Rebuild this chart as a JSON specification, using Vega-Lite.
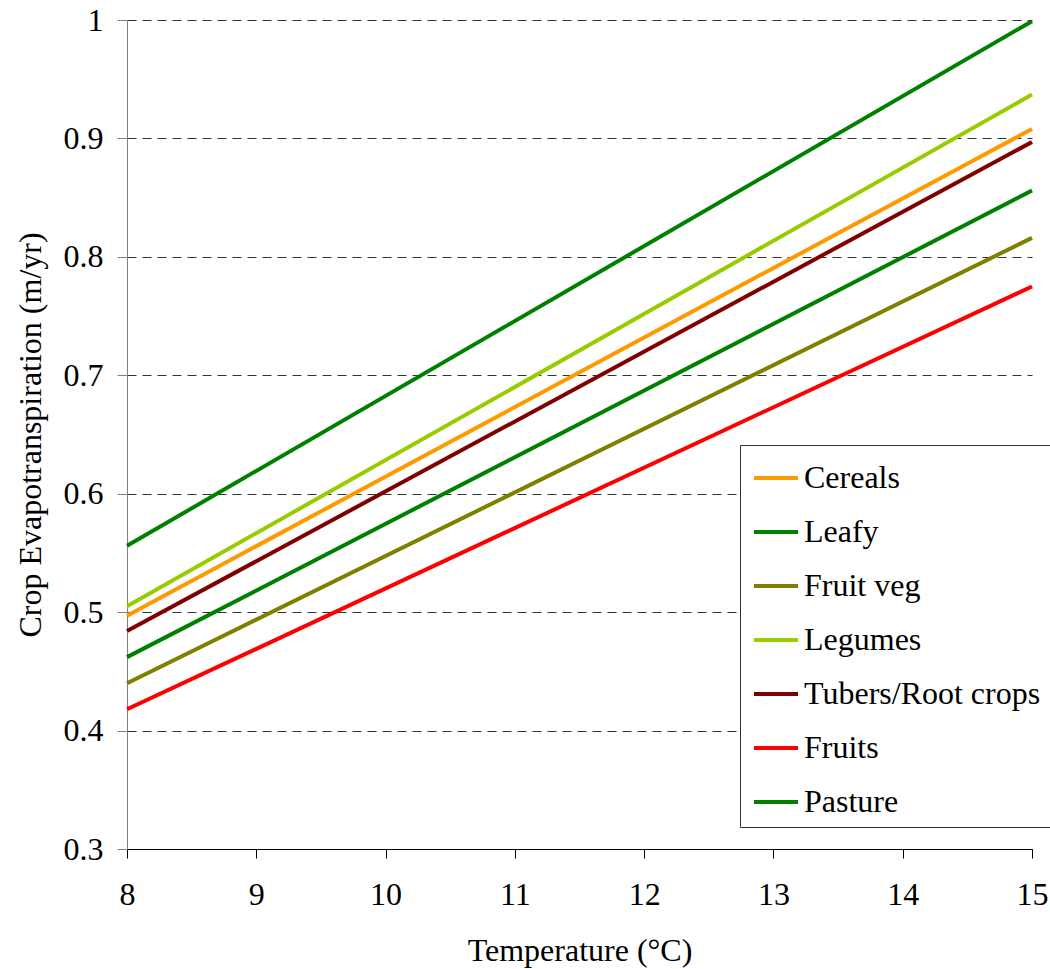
{
  "$schema": "https://vega.github.io/schema/vega-lite/v6.json",
  "autosize": "none",
  "width": 905,
  "height": 829,
  "padding": {"left": 127, "top": 20, "right": 18, "bottom": 120},
  "background": "white",
  "config": {
    "view": {"stroke": null},
    "font": "Liberation Serif, Times New Roman, serif",
    "axis": {"labelFont": "Liberation Serif, Times New Roman, serif", "titleFont": "Liberation Serif, Times New Roman, serif", "labelColor": "black", "titleColor": "black", "titleFontWeight": "normal"},
    "legend": {"labelFont": "Liberation Serif, Times New Roman, serif"}
  },
  "data": {
    "values": [
      {"crop": "Cereals", "temp": 8, "et": 0.497},
      {"crop": "Cereals", "temp": 15, "et": 0.908},
      {"crop": "Leafy", "temp": 8, "et": 0.462},
      {"crop": "Leafy", "temp": 15, "et": 0.856},
      {"crop": "Fruit veg", "temp": 8, "et": 0.440},
      {"crop": "Fruit veg", "temp": 15, "et": 0.816},
      {"crop": "Legumes", "temp": 8, "et": 0.505},
      {"crop": "Legumes", "temp": 15, "et": 0.937},
      {"crop": "Tubers/Root crops", "temp": 8, "et": 0.484},
      {"crop": "Tubers/Root crops", "temp": 15, "et": 0.897},
      {"crop": "Fruits", "temp": 8, "et": 0.418},
      {"crop": "Fruits", "temp": 15, "et": 0.775},
      {"crop": "Pasture", "temp": 8, "et": 0.556},
      {"crop": "Pasture", "temp": 15, "et": 0.999}
    ]
  },
  "mark": {"type": "line", "strokeWidth": 4, "strokeCap": "butt"},
  "encoding": {
    "x": {
      "field": "temp",
      "type": "quantitative",
      "scale": {"domain": [8, 15], "nice": false, "zero": false},
      "axis": {
        "title": "Temperature (°C)",
        "values": [8, 9, 10, 11, 12, 13, 14, 15],
        "format": "d",
        "grid": false,
        "domainColor": "black",
        "tickColor": "black",
        "tickSize": 9,
        "labelFont": "Liberation Serif, Times New Roman, serif",
        "labelFontSize": 32,
        "labelColor": "black",
        "labelPadding": 21,
        "labelFlush": false,
        "titleFont": "Liberation Serif, Times New Roman, serif",
        "titleFontSize": 32,
        "titlePadding": 25
      }
    },
    "y": {
      "field": "et",
      "type": "quantitative",
      "scale": {"domain": [0.3, 1.0], "nice": false, "zero": false},
      "axis": {
        "title": "Crop Evapotranspiration (m/yr)",
        "values": [0.3, 0.4, 0.5, 0.6, 0.7, 0.8, 0.9, 1.0],
        "format": "~g",
        "grid": true,
        "gridColor": "#333333",
        "gridDash": [9, 6],
        "gridWidth": 1,
        "domainColor": "#808080",
        "tickColor": "#808080",
        "tickSize": 10,
        "labelFont": "Liberation Serif, Times New Roman, serif",
        "labelFontSize": 32,
        "labelColor": "black",
        "labelPadding": 14,
        "labelFlush": false,
        "titleFont": "Liberation Serif, Times New Roman, serif",
        "titleFontSize": 32,
        "titlePadding": 16
      }
    },
    "color": {
      "field": "crop",
      "type": "nominal",
      "sort": ["Cereals", "Leafy", "Fruit veg", "Legumes", "Tubers/Root crops", "Fruits", "Pasture"],
      "scale": {
        "domain": ["Cereals", "Leafy", "Fruit veg", "Legumes", "Tubers/Root crops", "Fruits", "Pasture"],
        "range": ["#FF9900", "#008000", "#808000", "#99CC00", "#800000", "#FF0000", "#008000"]
      },
      "legend": {
        "title": null,
        "orient": "none",
        "legendX": 613,
        "legendY": 425,
        "padding": 9,
        "rowPadding": 14,
        "symbolType": "stroke",
        "symbolSize": 1936,
        "symbolStrokeWidth": 4,
        "symbolOffset": 3,
        "labelFont": "Liberation Serif, Times New Roman, serif",
        "labelFontSize": 32,
        "labelOffset": 4,
        "labelColor": "black",
        "labelLimit": 400,
        "strokeColor": "#333333",
        "fillColor": "white"
      }
    }
  }
}
